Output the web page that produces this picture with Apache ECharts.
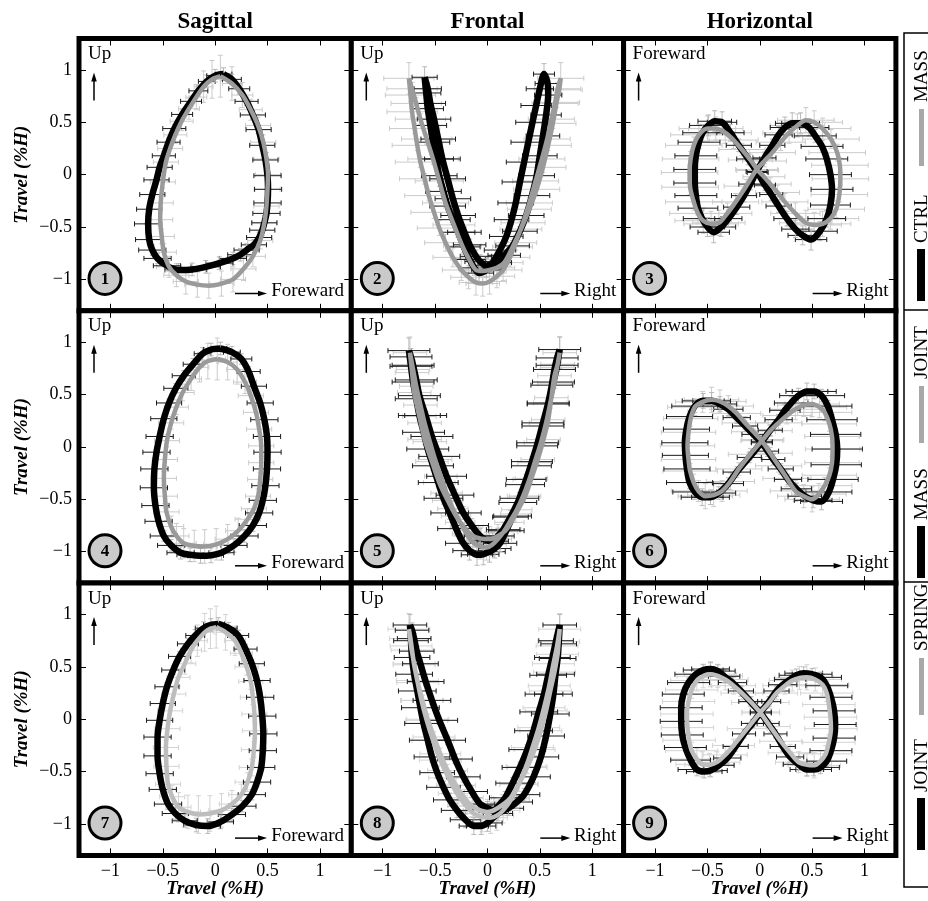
<!DOCTYPE html>
<html>
<head>
<meta charset="utf-8">
<script src="https://cdn.jsdelivr.net/npm/echarts@6/dist/echarts.min.js"></script>
<style>
html, body { margin: 0; padding: 0; background: #fff; }
#chart { width: 928px; height: 901px; }
</style>
</head>
<body>
<div id="chart"></div>
<script>
// Axis ticks and text
const tickValues = [-1, -0.5, 0, 0.5, 1];
const columnTitles = ['Sagittal', 'Frontal', 'Horizontal'];
const verticalLabels = ['Up', 'Up', 'Foreward'];
const horizontalLabels = ['Foreward', 'Right', 'Right'];
const axisTitle = 'Travel (%H)';
// Per row: [black trace name, grey trace name]
const rowLegend = [['CTRL', 'MASS'], ['MASS', 'JOINT'], ['JOINT', 'SPRING']];

// Mean trajectories, each point: [x, y, x spread, y spread] in %H
const p1Black = [[0.08,0.96,0.08,0.06],[0.16,0.91,0.09,0.05],[0.23,0.82,0.10,0.05],[0.30,0.70,0.11,0.04],[0.36,0.57,0.12,0.04],[0.415,0.43,0.12,0.04],[0.45,0.28,0.12,0.04],[0.48,0.14,0.12,0.04],[0.50,-0.01,0.13,0.04],[0.505,-0.14,0.13,0.04],[0.50,-0.27,0.13,0.04],[0.49,-0.37,0.13,0.04],[0.47,-0.46,0.12,0.04],[0.45,-0.53,0.12,0.05],[0.42,-0.60,0.12,0.05],[0.37,-0.67,0.12,0.05],[0.30,-0.72,0.12,0.06],[0.24,-0.765,0.12,0.06],[0.17,-0.80,0.13,0.06],[0.04,-0.845,0.13,0.06],[-0.09,-0.88,0.14,0.06],[-0.22,-0.905,0.14,0.06],[-0.35,-0.91,0.13,0.06],[-0.46,-0.87,0.13,0.05],[-0.55,-0.80,0.13,0.05],[-0.60,-0.72,0.13,0.05],[-0.63,-0.62,0.13,0.04],[-0.64,-0.47,0.13,0.04],[-0.63,-0.33,0.12,0.04],[-0.60,-0.19,0.12,0.04],[-0.56,-0.05,0.12,0.04],[-0.53,0.07,0.12,0.04],[-0.49,0.18,0.11,0.04],[-0.445,0.31,0.11,0.04],[-0.39,0.44,0.11,0.04],[-0.315,0.575,0.10,0.05],[-0.23,0.70,0.10,0.05],[-0.16,0.80,0.09,0.05],[-0.08,0.89,0.08,0.06],[0.0,0.945,0.08,0.06]];
const p1Grey = [[0.05,0.94,0.08,0.20],[0.16,0.87,0.09,0.16],[0.26,0.76,0.10,0.12],[0.34,0.62,0.11,0.10],[0.41,0.47,0.12,0.08],[0.46,0.31,0.12,0.07],[0.49,0.15,0.12,0.06],[0.505,0.0,0.12,0.06],[0.50,-0.14,0.12,0.06],[0.49,-0.30,0.12,0.06],[0.47,-0.46,0.12,0.07],[0.43,-0.63,0.12,0.08],[0.36,-0.78,0.12,0.10],[0.27,-0.90,0.12,0.11],[0.17,-1.00,0.12,0.12],[0.06,-1.04,0.12,0.12],[-0.06,-1.06,0.12,0.12],[-0.17,-1.05,0.12,0.12],[-0.28,-1.02,0.12,0.12],[-0.37,-0.96,0.12,0.11],[-0.44,-0.88,0.12,0.10],[-0.49,-0.74,0.12,0.08],[-0.51,-0.59,0.12,0.07],[-0.525,-0.43,0.12,0.06],[-0.52,-0.27,0.12,0.06],[-0.50,-0.07,0.12,0.06],[-0.47,0.12,0.12,0.06],[-0.43,0.25,0.12,0.07],[-0.38,0.38,0.11,0.08],[-0.32,0.51,0.11,0.09],[-0.25,0.63,0.10,0.10],[-0.18,0.74,0.10,0.12],[-0.11,0.84,0.09,0.15],[-0.03,0.91,0.08,0.18]];

const p2Black = [[-0.60,0.93,0.12,0.10],[-0.585,0.78,0.14,0.05],[-0.57,0.63,0.15,0.04],[-0.545,0.47,0.155,0.04],[-0.52,0.31,0.16,0.04],[-0.49,0.15,0.165,0.04],[-0.46,-0.01,0.17,0.04],[-0.42,-0.16,0.17,0.04],[-0.38,-0.30,0.17,0.04],[-0.33,-0.43,0.165,0.045],[-0.28,-0.55,0.16,0.05],[-0.225,-0.69,0.155,0.055],[-0.17,-0.81,0.15,0.06],[-0.125,-0.89,0.145,0.07],[-0.08,-0.94,0.14,0.08],[-0.01,-0.91,0.14,0.07],[0.05,-0.84,0.14,0.06],[0.12,-0.72,0.15,0.055],[0.18,-0.59,0.16,0.05],[0.23,-0.43,0.165,0.045],[0.27,-0.27,0.17,0.04],[0.31,-0.07,0.17,0.04],[0.35,0.12,0.17,0.04],[0.39,0.31,0.165,0.04],[0.43,0.50,0.16,0.04],[0.465,0.66,0.145,0.05],[0.50,0.82,0.13,0.06],[0.54,0.96,0.10,0.10],[0.575,0.87,0.12,0.06],[0.58,0.76,0.13,0.05],[0.56,0.57,0.145,0.04],[0.53,0.37,0.16,0.04],[0.50,0.18,0.165,0.04],[0.47,-0.01,0.17,0.04],[0.425,-0.20,0.17,0.04],[0.37,-0.39,0.17,0.04],[0.31,-0.54,0.165,0.045],[0.24,-0.68,0.16,0.05],[0.16,-0.77,0.155,0.055],[0.08,-0.84,0.15,0.06],[-0.01,-0.87,0.14,0.07],[-0.07,-0.83,0.145,0.065],[-0.11,-0.78,0.15,0.06],[-0.17,-0.67,0.155,0.055],[-0.22,-0.55,0.16,0.05],[-0.28,-0.39,0.165,0.045],[-0.33,-0.23,0.17,0.04],[-0.38,-0.04,0.17,0.04],[-0.43,0.15,0.17,0.04],[-0.47,0.34,0.165,0.04],[-0.51,0.53,0.16,0.04],[-0.545,0.68,0.145,0.05],[-0.57,0.82,0.13,0.06]];
const p2Grey = [[-0.75,0.92,0.24,0.15],[-0.735,0.76,0.24,0.06],[-0.72,0.60,0.24,0.05],[-0.695,0.44,0.24,0.05],[-0.67,0.28,0.24,0.05],[-0.64,0.12,0.24,0.05],[-0.60,-0.04,0.24,0.05],[-0.56,-0.20,0.23,0.05],[-0.51,-0.36,0.22,0.06],[-0.46,-0.51,0.21,0.07],[-0.40,-0.65,0.20,0.08],[-0.33,-0.79,0.19,0.09],[-0.25,-0.91,0.18,0.10],[-0.18,-0.98,0.17,0.11],[-0.11,-1.03,0.16,0.12],[-0.045,-1.04,0.16,0.12],[0.02,-1.02,0.16,0.12],[0.09,-0.97,0.17,0.11],[0.15,-0.91,0.18,0.10],[0.215,-0.79,0.19,0.085],[0.27,-0.65,0.20,0.07],[0.34,-0.46,0.21,0.06],[0.40,-0.27,0.22,0.05],[0.46,-0.06,0.22,0.05],[0.52,0.15,0.22,0.05],[0.57,0.34,0.22,0.05],[0.61,0.53,0.22,0.05],[0.645,0.68,0.22,0.055],[0.67,0.82,0.22,0.06],[0.70,0.92,0.22,0.15],[0.685,0.81,0.22,0.06],[0.66,0.69,0.22,0.05],[0.625,0.49,0.22,0.05],[0.58,0.28,0.22,0.05],[0.53,0.07,0.22,0.05],[0.47,-0.14,0.22,0.05],[0.40,-0.33,0.21,0.06],[0.32,-0.52,0.20,0.07],[0.24,-0.69,0.19,0.085],[0.16,-0.84,0.18,0.10],[0.09,-0.89,0.17,0.10],[0.02,-0.91,0.16,0.10],[-0.045,-0.92,0.16,0.10],[-0.11,-0.91,0.16,0.10],[-0.18,-0.80,0.17,0.09],[-0.24,-0.68,0.18,0.08],[-0.32,-0.48,0.20,0.06],[-0.40,-0.27,0.22,0.05],[-0.46,-0.06,0.23,0.05],[-0.52,0.15,0.24,0.05],[-0.58,0.34,0.24,0.05],[-0.64,0.53,0.24,0.05],[-0.68,0.68,0.24,0.055],[-0.72,0.82,0.24,0.06]];

const p3Black = [[-0.02,0.02,0.10,0.05],[-0.11,0.15,0.11,0.055],[-0.20,0.28,0.12,0.06],[-0.28,0.40,0.13,0.08],[-0.36,0.50,0.14,0.10],[-0.43,0.51,0.16,0.10],[-0.49,0.47,0.18,0.10],[-0.545,0.40,0.19,0.08],[-0.58,0.31,0.20,0.06],[-0.61,0.18,0.20,0.055],[-0.62,0.05,0.20,0.05],[-0.62,-0.08,0.20,0.05],[-0.61,-0.20,0.20,0.05],[-0.59,-0.32,0.19,0.065],[-0.55,-0.42,0.18,0.08],[-0.50,-0.50,0.165,0.09],[-0.44,-0.55,0.15,0.10],[-0.37,-0.50,0.14,0.09],[-0.30,-0.42,0.13,0.08],[-0.22,-0.31,0.125,0.07],[-0.15,-0.20,0.12,0.06],[-0.09,-0.09,0.11,0.055],[-0.03,0.03,0.10,0.05],[0.045,0.16,0.11,0.055],[0.12,0.28,0.12,0.06],[0.18,0.38,0.13,0.08],[0.24,0.45,0.14,0.10],[0.31,0.49,0.16,0.10],[0.39,0.49,0.18,0.10],[0.47,0.45,0.19,0.08],[0.53,0.37,0.20,0.06],[0.595,0.27,0.20,0.055],[0.64,0.15,0.20,0.05],[0.675,0.0,0.20,0.05],[0.69,-0.14,0.20,0.05],[0.675,-0.29,0.19,0.065],[0.64,-0.42,0.18,0.08],[0.575,-0.54,0.165,0.09],[0.49,-0.62,0.15,0.10],[0.41,-0.58,0.14,0.09],[0.34,-0.52,0.13,0.08],[0.26,-0.42,0.125,0.07],[0.18,-0.30,0.12,0.06],[0.11,-0.19,0.11,0.055],[0.05,-0.10,0.10,0.05]];
const p3Grey = [[-0.02,0.04,0.20,0.05],[-0.09,0.14,0.21,0.055],[-0.17,0.24,0.22,0.06],[-0.25,0.33,0.235,0.08],[-0.33,0.40,0.25,0.10],[-0.42,0.44,0.26,0.11],[-0.50,0.44,0.27,0.12],[-0.58,0.38,0.27,0.10],[-0.63,0.28,0.27,0.08],[-0.66,0.15,0.27,0.07],[-0.67,0.02,0.27,0.06],[-0.665,-0.12,0.27,0.07],[-0.63,-0.26,0.27,0.08],[-0.59,-0.37,0.27,0.10],[-0.54,-0.44,0.27,0.12],[-0.465,-0.47,0.26,0.12],[-0.39,-0.46,0.25,0.12],[-0.31,-0.37,0.235,0.10],[-0.23,-0.26,0.22,0.08],[-0.13,-0.11,0.21,0.065],[-0.03,0.05,0.20,0.05],[0.045,0.13,0.21,0.055],[0.12,0.21,0.22,0.06],[0.20,0.31,0.235,0.08],[0.28,0.40,0.25,0.10],[0.36,0.47,0.26,0.11],[0.44,0.52,0.27,0.12],[0.52,0.50,0.27,0.11],[0.60,0.44,0.27,0.10],[0.68,0.34,0.27,0.09],[0.74,0.21,0.27,0.08],[0.765,0.09,0.27,0.07],[0.77,-0.04,0.27,0.06],[0.76,-0.19,0.27,0.07],[0.73,-0.33,0.27,0.08],[0.675,-0.42,0.27,0.10],[0.60,-0.47,0.27,0.12],[0.52,-0.48,0.26,0.12],[0.44,-0.46,0.25,0.12],[0.34,-0.37,0.235,0.10],[0.24,-0.26,0.22,0.08],[0.17,-0.17,0.21,0.07],[0.10,-0.09,0.20,0.06],[0.04,-0.02,0.20,0.055]];

const p4Black = [[0.05,0.94,0.06,0.06],[0.16,0.905,0.08,0.055],[0.25,0.84,0.10,0.05],[0.32,0.72,0.11,0.045],[0.37,0.58,0.12,0.04],[0.43,0.42,0.125,0.04],[0.47,0.26,0.13,0.04],[0.495,0.10,0.13,0.04],[0.50,-0.05,0.13,0.04],[0.495,-0.21,0.13,0.04],[0.48,-0.37,0.13,0.04],[0.455,-0.51,0.13,0.045],[0.42,-0.63,0.13,0.05],[0.36,-0.75,0.13,0.055],[0.28,-0.85,0.13,0.06],[0.18,-0.94,0.125,0.065],[0.06,-1.01,0.12,0.07],[-0.04,-1.035,0.12,0.07],[-0.14,-1.04,0.12,0.07],[-0.24,-1.03,0.125,0.065],[-0.33,-1.01,0.13,0.06],[-0.42,-0.94,0.13,0.055],[-0.49,-0.85,0.13,0.05],[-0.54,-0.71,0.13,0.045],[-0.57,-0.56,0.13,0.04],[-0.585,-0.39,0.13,0.04],[-0.58,-0.21,0.13,0.04],[-0.56,-0.05,0.13,0.04],[-0.53,0.10,0.13,0.04],[-0.49,0.27,0.125,0.04],[-0.44,0.42,0.12,0.04],[-0.375,0.56,0.115,0.045],[-0.30,0.68,0.11,0.05],[-0.21,0.79,0.095,0.055],[-0.12,0.89,0.08,0.06],[-0.04,0.93,0.07,0.06]];
const p4Grey = [[0.02,0.84,0.08,0.20],[0.12,0.81,0.09,0.17],[0.21,0.74,0.10,0.14],[0.285,0.62,0.11,0.11],[0.34,0.49,0.12,0.08],[0.39,0.33,0.12,0.07],[0.42,0.17,0.12,0.06],[0.44,0.01,0.12,0.06],[0.44,-0.15,0.12,0.06],[0.43,-0.31,0.12,0.065],[0.41,-0.47,0.12,0.07],[0.37,-0.59,0.12,0.085],[0.31,-0.69,0.12,0.10],[0.22,-0.80,0.12,0.12],[0.12,-0.88,0.12,0.14],[0.01,-0.93,0.12,0.15],[-0.10,-0.95,0.12,0.16],[-0.20,-0.945,0.12,0.15],[-0.30,-0.92,0.12,0.14],[-0.37,-0.85,0.12,0.12],[-0.42,-0.76,0.12,0.10],[-0.465,-0.62,0.12,0.085],[-0.48,-0.47,0.12,0.07],[-0.49,-0.30,0.12,0.065],[-0.48,-0.12,0.12,0.06],[-0.46,0.06,0.12,0.06],[-0.42,0.23,0.12,0.06],[-0.37,0.38,0.115,0.07],[-0.31,0.52,0.11,0.08],[-0.23,0.65,0.10,0.11],[-0.15,0.76,0.09,0.14],[-0.07,0.82,0.085,0.17]];

const p5Black = [[-0.75,0.92,0.20,0.12],[-0.73,0.77,0.20,0.05],[-0.71,0.62,0.20,0.04],[-0.68,0.46,0.20,0.04],[-0.65,0.30,0.20,0.04],[-0.61,0.14,0.20,0.04],[-0.57,-0.02,0.20,0.04],[-0.52,-0.18,0.195,0.045],[-0.47,-0.34,0.19,0.05],[-0.42,-0.49,0.185,0.055],[-0.36,-0.63,0.18,0.06],[-0.30,-0.78,0.175,0.07],[-0.23,-0.92,0.17,0.08],[-0.17,-0.99,0.16,0.09],[-0.10,-1.03,0.15,0.10],[-0.04,-1.025,0.15,0.10],[0.02,-1.00,0.15,0.10],[0.07,-0.97,0.155,0.09],[0.12,-0.92,0.16,0.08],[0.18,-0.80,0.17,0.07],[0.24,-0.66,0.18,0.06],[0.305,-0.49,0.185,0.055],[0.37,-0.31,0.19,0.05],[0.425,-0.14,0.195,0.045],[0.48,0.04,0.20,0.04],[0.53,0.23,0.20,0.04],[0.58,0.42,0.20,0.04],[0.615,0.59,0.20,0.045],[0.64,0.74,0.20,0.05],[0.665,0.85,0.20,0.08],[0.69,0.93,0.20,0.12],[0.665,0.78,0.20,0.06],[0.63,0.62,0.20,0.04],[0.58,0.41,0.20,0.04],[0.53,0.20,0.20,0.04],[0.475,0.01,0.195,0.045],[0.42,-0.18,0.19,0.05],[0.36,-0.36,0.185,0.055],[0.29,-0.53,0.18,0.06],[0.22,-0.67,0.17,0.065],[0.15,-0.79,0.16,0.07],[0.10,-0.85,0.155,0.075],[0.05,-0.90,0.15,0.08],[-0.01,-0.89,0.15,0.075],[-0.07,-0.85,0.15,0.07],[-0.15,-0.75,0.16,0.065],[-0.23,-0.63,0.17,0.06],[-0.31,-0.46,0.18,0.055],[-0.39,-0.28,0.19,0.05],[-0.46,-0.09,0.195,0.045],[-0.53,0.10,0.20,0.04],[-0.59,0.30,0.20,0.04],[-0.65,0.49,0.20,0.04],[-0.68,0.64,0.20,0.045],[-0.71,0.78,0.20,0.05],[-0.73,0.86,0.20,0.08]];
const p5Grey = [[-0.74,0.90,0.16,0.15],[-0.71,0.74,0.16,0.06],[-0.68,0.58,0.16,0.05],[-0.64,0.40,0.16,0.05],[-0.60,0.23,0.16,0.05],[-0.55,0.05,0.16,0.05],[-0.50,-0.12,0.16,0.05],[-0.445,-0.28,0.155,0.055],[-0.39,-0.44,0.15,0.06],[-0.33,-0.59,0.145,0.07],[-0.26,-0.72,0.14,0.08],[-0.20,-0.83,0.135,0.10],[-0.14,-0.91,0.13,0.12],[-0.07,-0.95,0.13,0.12],[-0.01,-0.96,0.13,0.12],[0.05,-0.93,0.13,0.11],[0.10,-0.88,0.13,0.10],[0.155,-0.81,0.135,0.09],[0.21,-0.72,0.14,0.08],[0.28,-0.60,0.145,0.07],[0.34,-0.47,0.15,0.06],[0.40,-0.31,0.155,0.055],[0.45,-0.15,0.16,0.05],[0.51,0.04,0.16,0.05],[0.56,0.23,0.16,0.05],[0.60,0.42,0.16,0.05],[0.64,0.61,0.16,0.05],[0.665,0.76,0.16,0.08],[0.69,0.90,0.16,0.15],[0.67,0.79,0.16,0.07],[0.64,0.68,0.16,0.05],[0.61,0.47,0.16,0.05],[0.58,0.26,0.16,0.05],[0.535,0.07,0.16,0.05],[0.48,-0.12,0.16,0.05],[0.42,-0.30,0.155,0.055],[0.36,-0.47,0.15,0.06],[0.27,-0.64,0.145,0.08],[0.18,-0.79,0.14,0.10],[0.10,-0.85,0.135,0.11],[0.02,-0.88,0.13,0.12],[-0.06,-0.875,0.13,0.11],[-0.14,-0.85,0.13,0.10],[-0.22,-0.77,0.135,0.085],[-0.30,-0.66,0.14,0.07],[-0.38,-0.51,0.145,0.06],[-0.46,-0.34,0.15,0.05],[-0.53,-0.14,0.155,0.05],[-0.60,0.07,0.16,0.05],[-0.65,0.29,0.16,0.05],[-0.70,0.52,0.16,0.05],[-0.72,0.71,0.16,0.08]];

const p6Black = [[0.02,0.04,0.10,0.05],[-0.06,0.12,0.11,0.05],[-0.14,0.20,0.12,0.05],[-0.22,0.28,0.13,0.055],[-0.30,0.36,0.14,0.06],[-0.38,0.41,0.16,0.07],[-0.46,0.44,0.18,0.08],[-0.54,0.44,0.20,0.07],[-0.62,0.39,0.22,0.06],[-0.67,0.29,0.22,0.055],[-0.70,0.17,0.22,0.05],[-0.715,0.04,0.22,0.05],[-0.71,-0.08,0.22,0.05],[-0.695,-0.21,0.22,0.055],[-0.67,-0.34,0.22,0.06],[-0.62,-0.43,0.21,0.07],[-0.55,-0.48,0.20,0.08],[-0.47,-0.48,0.18,0.07],[-0.39,-0.44,0.16,0.06],[-0.30,-0.35,0.145,0.055],[-0.22,-0.24,0.13,0.05],[-0.10,-0.10,0.115,0.05],[0.02,0.05,0.10,0.05],[0.10,0.16,0.115,0.05],[0.18,0.26,0.13,0.05],[0.24,0.35,0.145,0.055],[0.30,0.42,0.16,0.06],[0.37,0.49,0.18,0.07],[0.45,0.53,0.20,0.08],[0.52,0.53,0.21,0.07],[0.59,0.49,0.22,0.06],[0.65,0.39,0.23,0.055],[0.69,0.26,0.24,0.05],[0.725,0.12,0.24,0.05],[0.74,-0.02,0.24,0.05],[0.73,-0.17,0.24,0.055],[0.70,-0.31,0.24,0.06],[0.66,-0.43,0.22,0.07],[0.59,-0.52,0.20,0.08],[0.51,-0.51,0.18,0.07],[0.43,-0.47,0.16,0.06],[0.35,-0.40,0.145,0.055],[0.27,-0.31,0.13,0.05],[0.20,-0.21,0.12,0.05],[0.13,-0.12,0.11,0.05],[0.075,-0.04,0.105,0.05]];
const p6Grey = [[0.02,0.06,0.20,0.05],[-0.06,0.145,0.21,0.055],[-0.14,0.23,0.22,0.06],[-0.22,0.32,0.23,0.08],[-0.30,0.39,0.24,0.10],[-0.38,0.435,0.25,0.11],[-0.46,0.45,0.26,0.12],[-0.545,0.43,0.26,0.10],[-0.62,0.38,0.26,0.08],[-0.66,0.27,0.26,0.07],[-0.68,0.14,0.26,0.06],[-0.69,0.01,0.26,0.06],[-0.68,-0.12,0.26,0.06],[-0.665,-0.23,0.26,0.07],[-0.63,-0.34,0.26,0.08],[-0.585,-0.42,0.26,0.10],[-0.52,-0.47,0.26,0.12],[-0.44,-0.46,0.25,0.11],[-0.36,-0.42,0.24,0.10],[-0.28,-0.33,0.23,0.08],[-0.20,-0.21,0.22,0.06],[-0.09,-0.07,0.21,0.055],[0.03,0.07,0.20,0.05],[0.10,0.155,0.21,0.055],[0.18,0.23,0.22,0.06],[0.26,0.30,0.23,0.08],[0.34,0.36,0.24,0.10],[0.42,0.40,0.25,0.11],[0.50,0.41,0.26,0.12],[0.57,0.38,0.26,0.10],[0.62,0.33,0.26,0.08],[0.665,0.22,0.26,0.07],[0.69,0.10,0.26,0.06],[0.695,-0.02,0.26,0.06],[0.69,-0.15,0.26,0.06],[0.665,-0.27,0.26,0.07],[0.62,-0.37,0.26,0.08],[0.565,-0.45,0.26,0.10],[0.50,-0.50,0.26,0.12],[0.42,-0.47,0.25,0.11],[0.34,-0.42,0.24,0.10],[0.26,-0.30,0.23,0.08],[0.18,-0.18,0.22,0.06],[0.10,-0.06,0.21,0.055]];

const p7Black = [[0.03,0.91,0.06,0.06],[0.13,0.87,0.08,0.055],[0.22,0.80,0.10,0.05],[0.29,0.67,0.11,0.045],[0.35,0.53,0.12,0.04],[0.40,0.37,0.125,0.04],[0.43,0.21,0.13,0.04],[0.45,0.03,0.13,0.04],[0.46,-0.14,0.13,0.04],[0.455,-0.30,0.13,0.04],[0.44,-0.46,0.13,0.04],[0.40,-0.60,0.13,0.045],[0.35,-0.72,0.13,0.05],[0.26,-0.83,0.13,0.055],[0.16,-0.91,0.13,0.06],[0.05,-0.98,0.125,0.065],[-0.07,-1.02,0.12,0.07],[-0.18,-1.01,0.12,0.065],[-0.29,-0.97,0.12,0.06],[-0.38,-0.90,0.125,0.055],[-0.45,-0.81,0.13,0.05],[-0.50,-0.67,0.13,0.045],[-0.53,-0.52,0.13,0.04],[-0.55,-0.35,0.13,0.04],[-0.55,-0.17,0.13,0.04],[-0.53,-0.01,0.125,0.04],[-0.50,0.15,0.12,0.04],[-0.46,0.31,0.115,0.04],[-0.40,0.47,0.11,0.04],[-0.34,0.60,0.105,0.045],[-0.26,0.72,0.10,0.05],[-0.19,0.80,0.09,0.055],[-0.11,0.87,0.08,0.06],[-0.04,0.90,0.07,0.06]];
const p7Grey = [[0.01,0.88,0.08,0.20],[0.10,0.83,0.09,0.17],[0.19,0.75,0.10,0.14],[0.25,0.63,0.105,0.11],[0.30,0.50,0.11,0.08],[0.34,0.36,0.115,0.075],[0.36,0.21,0.12,0.07],[0.375,0.05,0.12,0.07],[0.38,-0.11,0.12,0.07],[0.37,-0.29,0.12,0.075],[0.35,-0.46,0.12,0.08],[0.31,-0.60,0.12,0.09],[0.25,-0.72,0.12,0.10],[0.16,-0.81,0.12,0.13],[0.06,-0.87,0.12,0.16],[-0.05,-0.90,0.12,0.17],[-0.16,-0.91,0.12,0.18],[-0.26,-0.885,0.12,0.16],[-0.35,-0.84,0.12,0.14],[-0.41,-0.74,0.12,0.11],[-0.45,-0.62,0.12,0.08],[-0.465,-0.45,0.12,0.075],[-0.47,-0.27,0.12,0.07],[-0.455,-0.09,0.12,0.07],[-0.43,0.08,0.12,0.07],[-0.395,0.24,0.115,0.075],[-0.35,0.40,0.11,0.08],[-0.29,0.53,0.105,0.10],[-0.23,0.66,0.10,0.12],[-0.17,0.75,0.095,0.15],[-0.10,0.83,0.09,0.18],[-0.045,0.865,0.085,0.19]];

const p8Black = [[-0.74,0.90,0.16,0.10],[-0.73,0.75,0.165,0.05],[-0.72,0.59,0.17,0.04],[-0.70,0.43,0.175,0.04],[-0.67,0.27,0.18,0.04],[-0.64,0.11,0.18,0.04],[-0.61,-0.04,0.18,0.04],[-0.57,-0.20,0.175,0.045],[-0.53,-0.36,0.17,0.05],[-0.48,-0.51,0.165,0.055],[-0.42,-0.65,0.16,0.06],[-0.36,-0.77,0.155,0.065],[-0.29,-0.87,0.15,0.07],[-0.21,-0.96,0.145,0.075],[-0.13,-1.02,0.14,0.08],[-0.06,-1.02,0.14,0.08],[0.00,-0.99,0.14,0.08],[0.10,-0.90,0.14,0.07],[0.20,-0.85,0.145,0.065],[0.28,-0.79,0.15,0.06],[0.35,-0.72,0.15,0.06],[0.44,-0.55,0.16,0.055],[0.51,-0.36,0.17,0.05],[0.56,-0.16,0.175,0.045],[0.60,0.05,0.18,0.04],[0.63,0.24,0.18,0.04],[0.65,0.43,0.18,0.04],[0.67,0.58,0.175,0.045],[0.68,0.72,0.17,0.05],[0.69,0.90,0.16,0.10],[0.655,0.75,0.165,0.05],[0.62,0.59,0.17,0.04],[0.58,0.42,0.175,0.04],[0.54,0.24,0.18,0.04],[0.49,0.07,0.18,0.04],[0.44,-0.11,0.18,0.04],[0.38,-0.29,0.175,0.045],[0.31,-0.46,0.17,0.05],[0.24,-0.61,0.16,0.055],[0.17,-0.75,0.15,0.06],[0.11,-0.82,0.145,0.065],[0.06,-0.87,0.14,0.07],[0.00,-0.85,0.14,0.065],[-0.07,-0.81,0.14,0.06],[-0.15,-0.69,0.15,0.055],[-0.23,-0.55,0.16,0.05],[-0.31,-0.38,0.165,0.045],[-0.38,-0.20,0.17,0.04],[-0.46,-0.01,0.175,0.04],[-0.53,0.18,0.18,0.04],[-0.59,0.36,0.175,0.04],[-0.64,0.53,0.17,0.04],[-0.675,0.65,0.165,0.045],[-0.70,0.77,0.16,0.05],[-0.72,0.85,0.16,0.07]];
const p8Grey = [[-0.75,0.86,0.20,0.15],[-0.73,0.70,0.20,0.06],[-0.70,0.53,0.20,0.05],[-0.665,0.35,0.20,0.05],[-0.62,0.18,0.20,0.05],[-0.57,0.0,0.20,0.05],[-0.51,-0.17,0.20,0.05],[-0.45,-0.33,0.195,0.055],[-0.38,-0.49,0.19,0.06],[-0.30,-0.63,0.185,0.07],[-0.22,-0.75,0.18,0.08],[-0.145,-0.83,0.17,0.10],[-0.07,-0.87,0.16,0.12],[0.0,-0.885,0.16,0.12],[0.06,-0.87,0.16,0.12],[0.14,-0.82,0.17,0.10],[0.22,-0.75,0.18,0.08],[0.30,-0.62,0.185,0.07],[0.38,-0.46,0.19,0.06],[0.45,-0.29,0.195,0.055],[0.51,-0.11,0.20,0.05],[0.56,0.08,0.20,0.05],[0.60,0.27,0.20,0.05],[0.64,0.45,0.20,0.05],[0.67,0.62,0.20,0.05],[0.68,0.74,0.20,0.08],[0.69,0.86,0.20,0.15],[0.665,0.70,0.20,0.06],[0.63,0.53,0.20,0.05],[0.59,0.32,0.20,0.05],[0.54,0.11,0.20,0.05],[0.49,-0.08,0.20,0.05],[0.43,-0.27,0.20,0.05],[0.37,-0.45,0.19,0.06],[0.30,-0.62,0.18,0.07],[0.23,-0.76,0.17,0.09],[0.15,-0.87,0.16,0.12],[0.09,-0.92,0.16,0.14],[0.03,-0.94,0.16,0.15],[-0.05,-0.935,0.16,0.14],[-0.13,-0.90,0.16,0.12],[-0.21,-0.82,0.17,0.09],[-0.29,-0.71,0.18,0.07],[-0.37,-0.56,0.19,0.06],[-0.45,-0.39,0.20,0.05],[-0.52,-0.20,0.20,0.05],[-0.58,-0.01,0.20,0.05],[-0.63,0.18,0.20,0.05],[-0.67,0.37,0.20,0.05],[-0.70,0.52,0.20,0.05],[-0.72,0.66,0.20,0.05],[-0.735,0.77,0.20,0.08]];

const p9Black = [[0.01,0.06,0.10,0.04],[-0.09,0.17,0.11,0.045],[-0.18,0.27,0.12,0.05],[-0.26,0.35,0.135,0.055],[-0.34,0.41,0.15,0.06],[-0.40,0.46,0.165,0.06],[-0.47,0.48,0.18,0.06],[-0.54,0.47,0.19,0.055],[-0.61,0.43,0.20,0.05],[-0.68,0.35,0.20,0.045],[-0.73,0.24,0.20,0.04],[-0.75,0.11,0.20,0.04],[-0.75,-0.02,0.20,0.04],[-0.74,-0.15,0.20,0.04],[-0.71,-0.27,0.20,0.04],[-0.66,-0.39,0.19,0.05],[-0.60,-0.48,0.18,0.06],[-0.53,-0.50,0.17,0.06],[-0.47,-0.49,0.16,0.06],[-0.39,-0.44,0.145,0.055],[-0.31,-0.37,0.13,0.05],[-0.23,-0.26,0.12,0.045],[-0.15,-0.14,0.11,0.04],[-0.07,-0.04,0.105,0.04],[0.01,0.07,0.10,0.04],[0.09,0.17,0.11,0.045],[0.16,0.27,0.12,0.05],[0.22,0.33,0.135,0.055],[0.29,0.38,0.15,0.06],[0.35,0.42,0.165,0.06],[0.42,0.44,0.18,0.06],[0.50,0.43,0.19,0.055],[0.58,0.40,0.20,0.05],[0.64,0.32,0.20,0.045],[0.68,0.21,0.20,0.04],[0.71,0.08,0.20,0.04],[0.72,-0.05,0.20,0.04],[0.71,-0.18,0.20,0.04],[0.68,-0.30,0.20,0.04],[0.64,-0.40,0.19,0.05],[0.58,-0.46,0.18,0.06],[0.515,-0.48,0.17,0.06],[0.45,-0.48,0.16,0.06],[0.37,-0.43,0.145,0.055],[0.29,-0.36,0.13,0.05],[0.22,-0.26,0.12,0.045],[0.15,-0.14,0.11,0.04],[0.08,-0.04,0.105,0.04]];
const p9Grey = [[0.01,0.06,0.18,0.05],[-0.08,0.16,0.19,0.055],[-0.17,0.25,0.20,0.06],[-0.25,0.32,0.21,0.08],[-0.33,0.38,0.22,0.10],[-0.40,0.415,0.235,0.11],[-0.47,0.43,0.25,0.12],[-0.54,0.41,0.25,0.11],[-0.60,0.37,0.25,0.10],[-0.65,0.28,0.25,0.08],[-0.68,0.17,0.25,0.06],[-0.695,0.05,0.25,0.06],[-0.69,-0.08,0.25,0.06],[-0.675,-0.20,0.25,0.07],[-0.65,-0.30,0.25,0.08],[-0.60,-0.38,0.25,0.10],[-0.55,-0.43,0.25,0.12],[-0.48,-0.435,0.235,0.11],[-0.41,-0.41,0.22,0.10],[-0.33,-0.34,0.21,0.08],[-0.25,-0.25,0.20,0.06],[-0.12,-0.09,0.19,0.055],[0.01,0.07,0.18,0.05],[0.09,0.16,0.19,0.055],[0.16,0.25,0.20,0.06],[0.24,0.32,0.21,0.08],[0.31,0.37,0.22,0.10],[0.38,0.395,0.235,0.11],[0.45,0.40,0.25,0.12],[0.53,0.38,0.25,0.11],[0.60,0.33,0.25,0.10],[0.64,0.25,0.25,0.08],[0.66,0.14,0.25,0.06],[0.675,0.02,0.25,0.06],[0.68,-0.09,0.25,0.06],[0.66,-0.22,0.25,0.07],[0.63,-0.33,0.25,0.08],[0.58,-0.40,0.25,0.10],[0.52,-0.44,0.25,0.12],[0.45,-0.435,0.235,0.11],[0.37,-0.41,0.22,0.10],[0.29,-0.32,0.21,0.08],[0.20,-0.21,0.20,0.06],[0.10,-0.07,0.19,0.055]];

const panels = [
  [p1Black, p1Grey], [p2Black, p2Grey], [p3Black, p3Grey],
  [p4Black, p4Grey], [p5Black, p5Grey], [p6Black, p6Grey],
  [p7Black, p7Grey], [p8Black, p8Grey], [p9Black, p9Grey]
];

// Layout
const SERIF = "'Liberation Serif', 'Times New Roman', serif";
const LEFT = 79, TOP = 38.5, SIZE = 272.3;
const AX_MIN = -1.3, AX_MAX = 1.3;
const greyLine = ['#9a9a9a', '#9a9a9a', '#bdbdbd'];
const greyBar = ['#cbcbcb', '#cbcbcb', '#d3d3d3'];

const fmt = v => String(v).replace('-', '\u2212');

const grids = [], xAxes = [], yAxes = [], series = [], graphics = [];

function errorBars(data, idx, hColor, vColor, z) {
  return {
    type: 'custom', xAxisIndex: 2 * idx, yAxisIndex: 2 * idx, z: z,
    silent: true, animation: false,
    dimensions: ['x', 'y', 'ex', 'ey'], encode: { x: 0, y: 1 },
    data: data,
    renderItem: function (params, api) {
      const x = api.value(0), y = api.value(1), ex = api.value(2), ey = api.value(3);
      const l = api.coord([x - ex, y]), r = api.coord([x + ex, y]);
      const t = api.coord([x, y + ey]), b = api.coord([x, y - ey]);
      const cap = 2.5;
      const hs = { stroke: hColor, lineWidth: 1 };
      const vs = { stroke: vColor, lineWidth: 1 };
      return {
        type: 'group',
        children: [
          { type: 'line', shape: { x1: t[0], y1: t[1], x2: b[0], y2: b[1] }, style: vs },
          { type: 'line', shape: { x1: t[0] - cap, y1: t[1], x2: t[0] + cap, y2: t[1] }, style: vs },
          { type: 'line', shape: { x1: b[0] - cap, y1: b[1], x2: b[0] + cap, y2: b[1] }, style: vs },
          { type: 'line', shape: { x1: l[0], y1: l[1], x2: r[0], y2: r[1] }, style: hs },
          { type: 'line', shape: { x1: l[0], y1: l[1] - cap, x2: l[0], y2: l[1] + cap }, style: hs },
          { type: 'line', shape: { x1: r[0], y1: r[1] - cap, x2: r[0], y2: r[1] + cap }, style: hs }
        ]
      };
    }
  };
}

function loop(data) {
  const pts = data.map(p => [p[0], p[1]]);
  pts.push([data[0][0], data[0][1]]);
  return pts;
}

function axisBase(showLabel, position) {
  return {
    type: 'value', min: AX_MIN, max: AX_MAX, position: position,
    axisLine: { show: false, onZero: false },
    splitLine: { show: false },
    axisTick: { show: true, inside: true, length: 7, customValues: tickValues, lineStyle: { color: '#000', width: 1 } },
    axisLabel: {
      show: showLabel, customValues: tickValues, formatter: fmt,
      color: '#000', fontFamily: SERIF, fontSize: 18, margin: 7
    }
  };
}

function arrowUp(x, y1, y2) {
  graphics.push({ type: 'line', z: 20, shape: { x1: x, y1: y1, x2: x, y2: y2 + 6 }, style: { stroke: '#000', lineWidth: 1.5 } });
  graphics.push({ type: 'polygon', z: 20, shape: { points: [[x, y2], [x - 2.8, y2 + 9], [x + 2.8, y2 + 9]] }, style: { fill: '#000' } });
}
function arrowRight(x1, x2, y) {
  graphics.push({ type: 'line', z: 20, shape: { x1: x1, y1: y, x2: x2 - 6, y2: y }, style: { stroke: '#000', lineWidth: 1.5 } });
  graphics.push({ type: 'polygon', z: 20, shape: { points: [[x2, y], [x2 - 9, y - 2.8], [x2 - 9, y + 2.8]] }, style: { fill: '#000' } });
}

for (let r = 0; r < 3; r++) {
  for (let c = 0; c < 3; c++) {
    const idx = r * 3 + c;
    const gl = LEFT + c * SIZE, gt = TOP + r * SIZE;
    grids.push({ left: gl, top: gt, width: SIZE, height: SIZE, show: true, borderColor: '#000', borderWidth: 5, backgroundColor: '#fff', containLabel: false, outerBoundsMode: 'none' });
    xAxes.push(Object.assign(axisBase(r === 2, 'bottom'), { gridIndex: idx }));
    xAxes.push(Object.assign(axisBase(false, 'top'), { gridIndex: idx }));
    yAxes.push(Object.assign(axisBase(c === 0, 'left'), { gridIndex: idx }));
    yAxes.push(Object.assign(axisBase(false, 'right'), { gridIndex: idx }));

    const [blk, gry] = panels[idx];
    series.push(errorBars(gry, idx, greyBar[r], greyBar[r], 2));
    series.push(errorBars(blk, idx, '#1a1a1a', '#b8b8b8', 3));
    series.push({
      type: 'line', xAxisIndex: 2 * idx, yAxisIndex: 2 * idx, z: 4,
      data: loop(blk), smooth: 0.3, symbol: 'none', silent: true, animation: false,
      lineStyle: { color: '#000', width: 6.5 }
    });
    series.push({
      type: 'line', xAxisIndex: 2 * idx, yAxisIndex: 2 * idx, z: 5,
      data: loop(gry), smooth: 0.3, symbol: 'none', silent: true, animation: false,
      lineStyle: { color: greyLine[r], width: 4.5 }
    });

    // Direction labels
    graphics.push({ type: 'text', x: gl + 9, y: gt + 25, z: 20, style: { text: verticalLabels[c], font: '19px ' + SERIF, fill: '#000', align: 'left', verticalAlign: 'bottom' } });
    arrowUp(gl + 15, gt + 62, gt + 34);
    const rightX = c === 0 ? 156 : 189;
    const rightEnd = c === 0 ? 188 : 219;
    arrowRight(gl + rightX, gl + rightEnd, gt + 255);
    graphics.push({ type: 'text', x: gl + 265, y: gt + 262, z: 20, style: { text: horizontalLabels[c], font: '19px ' + SERIF, fill: '#000', align: 'right', verticalAlign: 'bottom' } });

    // Panel number badge
    graphics.push({ type: 'circle', shape: { cx: gl + 26, cy: gt + 240, r: 16 }, z: 20, style: { fill: '#cacaca', stroke: '#000', lineWidth: 3 } });
    graphics.push({ type: 'text', x: gl + 26, y: gt + 241, z: 21, style: { text: String(idx + 1), font: 'bold 17px ' + SERIF, fill: '#000', align: 'center', verticalAlign: 'middle' } });
  }
}

// Column titles and axis titles
for (let c = 0; c < 3; c++) {
  graphics.push({ type: 'text', x: LEFT + (c + 0.5) * SIZE, y: 22, style: { text: columnTitles[c], font: 'bold 23px ' + SERIF, fill: '#000', align: 'center', verticalAlign: 'middle' } });
  graphics.push({ type: 'text', x: LEFT + (c + 0.5) * SIZE, y: 889, style: { text: axisTitle, font: 'italic bold 19px ' + SERIF, fill: '#000', align: 'center', verticalAlign: 'middle' } });
}
for (let r = 0; r < 3; r++) {
  graphics.push({ type: 'text', x: 22, y: TOP + (r + 0.5) * SIZE, rotation: Math.PI / 2, style: { text: axisTitle, font: 'italic bold 19px ' + SERIF, fill: '#000', align: 'center', verticalAlign: 'middle' } });
}

// Legend strip at the right edge
graphics.push({ type: 'rect', shape: { x: 904, y: 33, width: 40, height: 854 }, style: { fill: '#fff', stroke: '#000', lineWidth: 1.5 } });
const legendRowTops = [33, 310, 582];
graphics.push({ type: 'line', shape: { x1: 904, y1: 310, x2: 930, y2: 310 }, style: { stroke: '#000', lineWidth: 1.5 } });
graphics.push({ type: 'line', shape: { x1: 904, y1: 582, x2: 930, y2: 582 }, style: { stroke: '#000', lineWidth: 1.5 } });
for (let r = 0; r < 3; r++) {
  const t = legendRowTops[r];
  const [blackName, greyName] = rowLegend[r];
  graphics.push({ type: 'text', x: 922, y: t + 69, rotation: Math.PI / 2, style: { text: greyName, font: '19px ' + SERIF, fill: '#000', align: 'left', verticalAlign: 'middle' } });
  graphics.push({ type: 'rect', shape: { x: 919, y: t + 76, width: 5, height: 57 }, style: { fill: '#a8a8a8' } });
  graphics.push({ type: 'text', x: 922, y: t + 210, rotation: Math.PI / 2, style: { text: blackName, font: '19px ' + SERIF, fill: '#000', align: 'left', verticalAlign: 'middle' } });
  graphics.push({ type: 'rect', shape: { x: 917, y: t + 216, width: 8, height: 52 }, style: { fill: '#000' } });
}

const chart = echarts.init(document.getElementById('chart'), null, { renderer: 'canvas' });
chart.setOption({
  animation: false,
  backgroundColor: '#fff',
  grid: grids,
  xAxis: xAxes,
  yAxis: yAxes,
  series: series,
  graphic: { elements: graphics }
});
</script>
</body>
</html>
